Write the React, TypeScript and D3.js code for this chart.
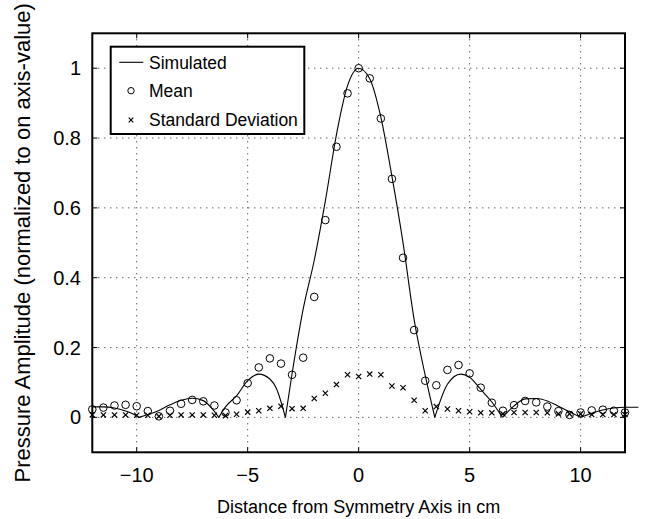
import React from 'react';
import * as d3 from 'd3';

// Simulated beam profile (x in cm, normalized amplitude)
const simX = [-12, -11.5, -11, -10.5, -10, -9.9, -9.5, -9, -8.5, -8, -7.5, -7, -6.6, -6.3,
  -6, -5.5, -5, -4.5, -4, -3.7, -3.3, -3, -2.5, -2, -1.5, -1, -0.5, 0, 0.5, 1, 1.5, 2, 2.5, 3,
  3.43, 4, 4.6, 5, 5.5, 6, 6.48, 7, 7.5, 8, 8.5, 9, 9.5, 10, 10.5, 11, 11.5, 12, 12.6];
const simY = [0.030, 0.030, 0.027, 0.018, 0.004, 0, 0.008, 0.020, 0.036, 0.049, 0.055, 0.048, 0.025, 0,
  0.030, 0.062, 0.105, 0.124, 0.110, 0.082, 0, 0.125, 0.31, 0.45, 0.62, 0.81, 0.95, 1.0, 0.97, 0.86, 0.69, 0.50, 0.28, 0.12,
  0, 0.095, 0.124, 0.115, 0.08, 0.044, 0, 0.033, 0.053, 0.054, 0.047, 0.032, 0.016, 0, 0.012, 0.021, 0.027, 0.029, 0.029];

// Measured positions every 0.5 cm
const measX = d3.range(-12, 12.01, 0.5);
const meanY = [0.023, 0.028, 0.034, 0.036, 0.032, 0.018, 0.003, 0.019, 0.039, 0.050, 0.046, 0.034, 0.014,
  0.049, 0.098, 0.143, 0.169, 0.154, 0.122, 0.171, 0.345, 0.565, 0.775, 0.928, 1.0, 0.971, 0.856, 0.683,
  0.457, 0.250, 0.105, 0.092, 0.136, 0.150, 0.126, 0.085, 0.042, 0.019, 0.035, 0.047, 0.043, 0.031,
  0.018, 0.007, 0.014, 0.020, 0.022, 0.019, 0.014];
const stdY = [0.007, 0.007, 0.007, 0.007, 0.006, 0.006, 0.003, 0.006, 0.007, 0.007, 0.007, 0.006, 0.005,
  0.009, 0.015, 0.019, 0.026, 0.032, 0.025, 0.026, 0.054, 0.069, 0.094, 0.122, 0.117, 0.124, 0.122, 0.090,
  0.085, 0.049, 0.019, 0.031, 0.024, 0.019, 0.016, 0.013, 0.013, 0.010, 0.014, 0.014, 0.014, 0.013,
  0.010, 0.010, 0.010, 0.008, 0.008, 0.008, 0.008];

const xTicks = [-10, -5, 0, 5, 10];
const yTicks = [0, 0.2, 0.4, 0.6, 0.8, 1];
const legendItems = ['Simulated', 'Mean', 'Standard Deviation'];

const W = 645;
const H = 519;
const left = 92.3, right = 625, top = 33.3, bottom = 452.3;
const font = '"Liberation Sans", Arial, Helvetica, sans-serif';

export default function App() {
  const x = d3.scaleLinear().domain([-12, 12]).range([left, right]);
  const y = d3.scaleLinear().domain([-0.1, 1.1]).range([bottom, top]);
  const fmt = d3.format('');

  // split the simulated curve at its zeros so the cusps stay sharp
  const pts = simX.map((v, i) => [v, simY[i]] as [number, number]);
  const segments: [number, number][][] = [];
  let cur: [number, number][] = [];
  pts.forEach((p, i) => {
    cur.push(p);
    if (p[1] === 0 && i > 0 && i < pts.length - 1) {
      segments.push(cur);
      cur = [p];
    }
  });
  segments.push(cur);

  const line = d3.line<[number, number]>()
    .x(d => x(d[0]))
    .y(d => y(d[1]))
    .curve(d3.curveMonotoneX);

  const cross = (cx: number, cy: number, s: number, key?: string | number) => (
    <path key={key} d={`M${cx - s},${cy - s}L${cx + s},${cy + s}M${cx - s},${cy + s}L${cx + s},${cy - s}`}
      stroke="#000" strokeWidth={1.2} fill="none" />
  );

  const lgX = 110.7, lgY = 46.7, lgW = 193.6, lgH = 87.3;
  const rowY = [62.3, 90.7, 120];

  return (
    <svg width={W} height={H} style={{ position: 'absolute', left: 0, top: 0, background: '#fff' }}
      fontFamily={font}>
      <rect x={0} y={0} width={W} height={H} fill="#fff" />
      {/* grid */}
      <g stroke="#222" strokeWidth={1} strokeDasharray="1,5">
        {xTicks.map(t => <line key={'gx' + t} x1={x(t)} x2={x(t)} y1={top} y2={bottom} />)}
        {yTicks.map(t => <line key={'gy' + t} x1={left} x2={right} y1={y(t)} y2={y(t)} />)}
      </g>
      {/* inward ticks */}
      <g stroke="#000" strokeWidth={1}>
        {xTicks.map(t => (
          <g key={'tx' + t}>
            <line x1={x(t)} x2={x(t)} y1={bottom} y2={bottom - 5} />
            <line x1={x(t)} x2={x(t)} y1={top} y2={top + 5} />
          </g>
        ))}
        {yTicks.map(t => (
          <g key={'ty' + t}>
            <line x1={left} x2={left + 5} y1={y(t)} y2={y(t)} />
            <line x1={right} x2={right - 5} y1={y(t)} y2={y(t)} />
          </g>
        ))}
      </g>
      {/* simulated line */}
      <g fill="none" stroke="#000" strokeWidth={1.1}>
        {segments.map((s, i) => <path key={'s' + i} d={line(s) || ''} />)}
      </g>
      {/* mean */}
      <g fill="none" stroke="#000" strokeWidth={1}>
        {measX.map((v, i) => <circle key={'m' + i} cx={x(v)} cy={y(meanY[i])} r={3.8} />)}
      </g>
      {/* standard deviation */}
      <g>
        {measX.map((v, i) => cross(x(v), y(stdY[i]), 2.6, 'c' + i))}
      </g>
      {/* axes box */}
      <rect x={left} y={top} width={right - left} height={bottom - top} fill="none" stroke="#000" strokeWidth={2} />
      {/* tick labels */}
      <g fontSize={20} fill="#000">
        {xTicks.map(t => (
          <text key={'lx' + t} x={x(t)} y={482} textAnchor="middle">{fmt(t)}</text>
        ))}
        {yTicks.map(t => (
          <text key={'ly' + t} x={81} y={y(t) + 7} textAnchor="end">{fmt(t)}</text>
        ))}
      </g>
      <text x={(left + right) / 2} y={513} textAnchor="middle" fontSize={18} fill="#000">
        Distance from Symmetry Axis in cm
      </text>
      <text transform={`translate(30,${(top + bottom) / 2}) rotate(-90)`} textAnchor="middle" fontSize={22} fill="#000">
        Pressure Amplitude (normalized to on axis-value)
      </text>
      {/* legend */}
      <rect x={lgX} y={lgY} width={lgW} height={lgH} fill="#fff" stroke="#000" strokeWidth={2} />
      <line x1={119.3} x2={143.3} y1={rowY[0]} y2={rowY[0]} stroke="#000" strokeWidth={1.1} />
      <circle cx={131} cy={rowY[1]} r={3.2} fill="none" stroke="#000" strokeWidth={1} />
      {cross(131, rowY[2], 2.3)}
      <g fontSize={17.5} fill="#000">
        {legendItems.map((t, i) => (
          <text key={t} x={149} y={rowY[i] + 6.2}>{t}</text>
        ))}
      </g>
    </svg>
  );
}
